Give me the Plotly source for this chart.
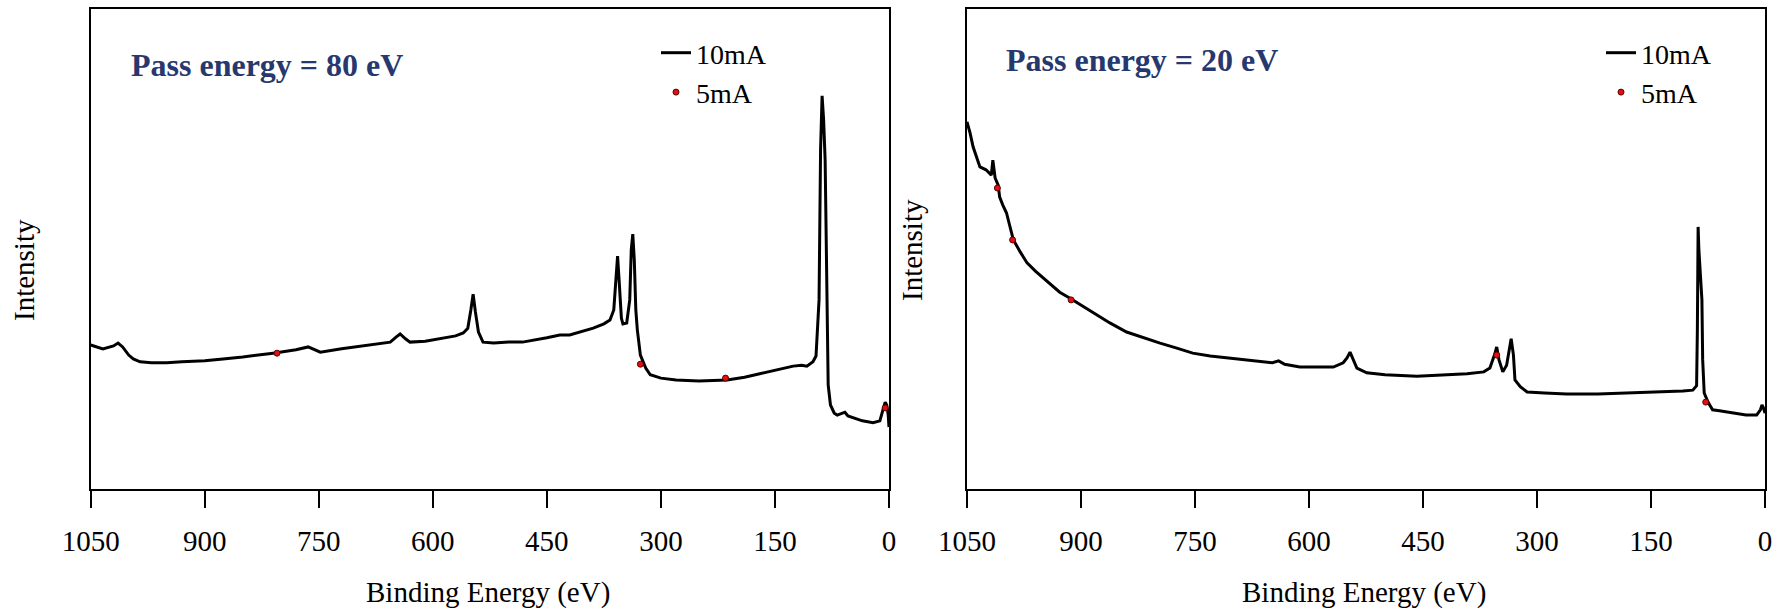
import plotly.graph_objects as go

# ---------------- data ----------------
tick_vals = [1050, 900, 750, 600, 450, 300, 150, 0]

# Pass energy 80 eV, 10 mA
be_80 = [1050, 1040, 1034, 1020, 1014, 1008, 1000, 994, 985, 970, 950, 930, 900, 876, 850, 810,
         780, 764, 756, 748, 720, 700, 680, 656, 648, 643, 636, 630, 610, 590, 570, 560, 554,
         550, 547, 544, 540, 534, 520, 500, 482, 450, 433, 420, 400, 389, 375, 367, 362, 359,
         357, 355, 352, 350, 345, 341, 339, 337, 335, 333, 331, 327, 320, 314, 300, 280, 250,
         213, 190, 170, 140, 126, 115, 108, 100, 96, 92, 90, 88, 86, 84, 82, 80, 77, 72, 68,
         62, 58, 54, 47, 35, 21, 12, 8, 5, 3, 1, 0]
i_80_10mA = [30.0, 29.4, 29.2, 29.8, 30.4, 29.6, 27.9, 27.1, 26.5, 26.3, 26.3, 26.5, 26.7, 27.1,
             27.5, 28.3, 29.0, 29.6, 29.0, 28.5, 29.2, 29.6, 30.0, 30.6, 31.7, 32.3, 31.3, 30.6,
             30.8, 31.3, 31.9, 32.5, 33.5, 37.3, 40.6, 36.9, 32.7, 30.6, 30.4, 30.6, 30.6, 31.5,
             32.1, 32.1, 32.9, 33.5, 34.4, 35.2, 37.3, 45.6, 48.5, 43.5, 35.6, 34.4, 34.6, 39.4,
             49.8, 53.1, 47.7, 37.3, 33.1, 27.9, 25.2, 23.8, 23.1, 22.7, 22.5, 22.7, 23.3, 24.0,
             25.0, 25.6, 25.8, 25.6, 26.5, 27.7, 39.4, 70.6, 81.9, 76.9, 68.5, 41.5, 21.7, 17.5,
             15.8, 15.4, 15.8, 16.0, 15.2, 14.8, 14.2, 13.8, 14.2, 16.5, 18.1, 17.5, 15.4, 12.9]
# Pass energy 80 eV, 5 mA (visible points)
be_80_5mA = [805, 327, 215, 5]
i_80_5mA = [28.3, 26.0, 23.1, 16.9]

# Pass energy 20 eV, 10 mA
be_20 = [1050, 1046, 1042, 1038, 1033, 1025, 1018, 1016, 1013, 1009, 1007, 1003, 998, 994, 989,
         980, 971, 960, 950, 940, 928, 915, 905, 884, 862, 840, 818, 796, 775, 753, 730, 708,
         686, 664, 648, 640, 632, 612, 590, 568, 555, 550, 546, 542, 537, 524, 500, 458, 420,
         392, 370, 362, 356, 353, 350, 345, 340, 336, 334, 331, 329, 322, 313, 290, 261, 220,
         174, 140, 108, 95, 90, 89, 88, 87, 85, 83, 82, 80, 75, 69, 60, 42, 25, 11, 6, 4, 2, 0]
i_20_10mA = [76.5, 74.2, 71.3, 69.6, 67.1, 66.5, 65.4, 68.5, 64.8, 63.3, 60.8, 59.2, 57.5, 55.0,
             51.9, 49.4, 47.1, 45.4, 44.0, 42.5, 41.0, 39.8, 38.8, 36.7, 34.6, 32.7, 31.5, 30.4,
             29.4, 28.3, 27.7, 27.3, 26.9, 26.5, 26.3, 26.7, 26.0, 25.4, 25.4, 25.4, 26.3, 27.3,
             28.5, 27.1, 25.2, 24.2, 23.8, 23.5, 23.8, 24.0, 24.4, 25.2, 27.9, 29.6, 26.9, 24.4,
             25.8, 30.0, 31.3, 27.9, 22.7, 21.3, 20.2, 20.0, 19.8, 19.8, 20.0, 20.2, 20.4, 20.6,
             21.5, 33.1, 54.6, 49.8, 45.6, 39.4, 26.9, 20.0, 18.1, 16.5, 16.3, 15.8, 15.4, 15.4,
             16.5, 17.5, 16.9, 15.8]
# Pass energy 20 eV, 5 mA (visible points)
be_20_5mA = [1010, 990, 913, 353, 78]
i_20_5mA = [62.7, 51.9, 39.4, 27.9, 18.1]

series_names = ["10mA", "5mA"]
panel_labels = ["Pass energy = 80 eV", "Pass energy = 20 eV"]
x_title = "Binding Energy (eV)"
y_title = "Intensity"

# ---------------- figure ----------------
W, H = 1784, 610
FONT = "Liberation Serif, Times New Roman, serif"
line_style = dict(color="black", width=3)
marker_style = dict(color="#e01010", size=6, line=dict(color="#600000", width=1))

fig = go.Figure()
fig.add_trace(go.Scatter(x=be_80, y=i_80_10mA, mode="lines", line=line_style,
                         name=series_names[0], legend="legend", xaxis="x", yaxis="y"))
fig.add_trace(go.Scatter(x=be_80_5mA, y=i_80_5mA, mode="markers", marker=marker_style,
                         name=series_names[1], legend="legend", xaxis="x", yaxis="y"))
fig.add_trace(go.Scatter(x=be_20, y=i_20_10mA, mode="lines", line=line_style,
                         name=series_names[0], legend="legend2", xaxis="x2", yaxis="y2"))
fig.add_trace(go.Scatter(x=be_20_5mA, y=i_20_5mA, mode="markers", marker=marker_style,
                         name=series_names[1], legend="legend2", xaxis="x2", yaxis="y2"))

def px(v):
    return v / W

def py(v):
    return 1 - v / H

xcommon = dict(range=[1050, 0], tickmode="array", tickvals=tick_vals,
               ticktext=[str(t) for t in tick_vals], ticks="outside", ticklen=17,
               tickwidth=2, tickcolor="black", showline=True, linecolor="black",
               linewidth=2, mirror=True, showgrid=False, zeroline=False,
               automargin=False,
               tickfont=dict(family=FONT, size=29, color="black"),
               ticklabelstandoff=8)
ycommon = dict(range=[0, 100], showticklabels=False, ticks="", showline=True,
               linecolor="black", linewidth=2, mirror=True, showgrid=False,
               zeroline=False, automargin=False)

ydom = [py(489), py(9)]
legend_common = dict(font=dict(family=FONT, size=28, color="black"),
                     bgcolor="rgba(0,0,0,0)", borderwidth=0, tracegroupgap=0,
                     xanchor="left", yanchor="top", itemwidth=30)

fig.update_layout(
    width=W, height=H,
    margin=dict(l=0, r=0, t=0, b=0, pad=0, autoexpand=False),
    paper_bgcolor="white", plot_bgcolor="white",
    xaxis=dict(domain=[px(90.7), px(889)], anchor="y", **xcommon),
    yaxis=dict(domain=ydom, anchor="x", **ycommon),
    xaxis2=dict(domain=[px(967), px(1765)], anchor="y2", **xcommon),
    yaxis2=dict(domain=ydom, anchor="x2", **ycommon),
    legend=dict(x=px(656), y=py(28), **legend_common),
    legend2=dict(x=px(1601), y=py(28), **legend_common),
    showlegend=True,
)

ann_font = dict(family=FONT, size=29, color="black")
annotations = [
    dict(text=x_title, x=px(487.5), y=py(592), xref="paper", yref="paper",
         showarrow=False, xanchor="center", yanchor="middle", font=ann_font),
    dict(text=x_title, x=px(1364), y=py(592), xref="paper", yref="paper",
         showarrow=False, xanchor="center", yanchor="middle", font=ann_font),
    dict(text=y_title, x=px(24), y=py(270), xref="paper", yref="paper",
         showarrow=False, xanchor="center", yanchor="middle", textangle=-90, font=ann_font),
    dict(text=y_title, x=px(912), y=py(250), xref="paper", yref="paper",
         showarrow=False, xanchor="center", yanchor="middle", textangle=-90, font=ann_font),
    dict(text="<b>" + panel_labels[0] + "</b>", x=px(129), y=py(65), xref="paper",
         yref="paper", showarrow=False, xanchor="left", yanchor="middle",
         font=dict(family=FONT, size=32, color="#27386e")),
    dict(text="<b>" + panel_labels[1] + "</b>", x=px(1004), y=py(60), xref="paper",
         yref="paper", showarrow=False, xanchor="left", yanchor="middle",
         font=dict(family=FONT, size=32, color="#27386e")),
]
fig.update_layout(annotations=annotations)

fig.write_html("out.html")
